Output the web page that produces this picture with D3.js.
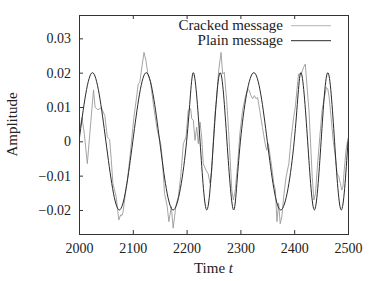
<!DOCTYPE html>
<html>
<head>
<meta charset="utf-8">
<script src="https://cdn.jsdelivr.net/npm/d3@7"></script>
<style>
body { margin: 0; background: #fff; }
text { font-family: "Liberation Serif", "DejaVu Serif", serif; fill: #222; }
</style>
</head>
<body>
<div id="chart-area"></div>
<script>
// Plain message: extremes and zero crossings
let plainTime = [2000, 2025, 2050, 2075, 2100, 2125, 2150, 2175, 2200, 2212.5, 2225, 2237.5, 2250, 2262.5, 2275, 2287.5,
	2300, 2325, 2350, 2375, 2400, 2412.5, 2425, 2437.5, 2450, 2462.5, 2475, 2487.5, 2500];
let plainAmp = [0, 0.02, 0, -0.02, 0, 0.02, 0, -0.02, 0, 0.02, 0, -0.02, 0, 0.02, 0, -0.02,
	0, 0.02, 0, -0.02, 0, 0.02, 0, -0.02, 0, 0.02, 0, -0.02, 0];

// Cracked message (noisy trace)
let crackedTime = [2000, 2001, 2005.6, 2010, 2015.5, 2020, 2027, 2030, 2035, 2041.5, 2048, 2052.6, 2057, 2060, 2063, 2066,
	2069, 2074, 2077.5, 2080, 2082, 2087, 2090, 2096, 2102, 2107, 2110, 2113, 2117.7, 2120.8, 2124.5, 2128,
	2133, 2139, 2145.5, 2152, 2155, 2159, 2164, 2167, 2171.6, 2175, 2180, 2184.6, 2189, 2194, 2199, 2203,
	2207.6, 2209.5, 2212.5, 2215.6, 2218.8, 2221.8, 2225, 2228, 2231, 2236, 2240, 2243.5, 2246.7, 2249.7, 2252.8, 2256,
	2259.6, 2264, 2267, 2270, 2274.5, 2278, 2280.7, 2284, 2287, 2290.5, 2295, 2299, 2304, 2309, 2313.5, 2316.5,
	2319.7, 2322.8, 2326, 2329, 2332, 2336, 2341, 2346, 2349, 2352, 2355.6, 2359, 2362, 2365, 2368, 2371,
	2374, 2377, 2380.5, 2385, 2390, 2394.6, 2399, 2402, 2405, 2408, 2413, 2417.6, 2420.6, 2424, 2427.5, 2430.5,
	2433.5, 2436.6, 2439.6, 2442.6, 2447.6, 2451.8, 2456, 2460, 2462.5, 2465, 2468.6, 2472.4, 2476.6, 2479.8, 2482.9, 2485.9,
	2488.5, 2490.7, 2493, 2496.3, 2500];
let crackedAmp = [0.001, 0.0032, 0.007, 0.002, -0.0065, 0.002, 0.015, 0.0099, 0.0092, 0.0098, 0.0075, 0.0013, 0.0005, -0.0054, -0.0123, -0.0142,
	-0.0161, -0.0229, -0.0214, -0.0216, -0.0205, -0.0142, -0.0113, -0.0026, 0.007, 0.0128, 0.0167, 0.0172, 0.0225, 0.0259, 0.0235, 0.0196,
	0.0172, 0.0099, 0.0032, -0.0007, -0.0055, -0.0152, -0.019, -0.0234, -0.019, -0.0253, -0.019, -0.0161, -0.0103, -0.0007, 0.0013, 0.009,
	0.0095, 0.0066, 0.0061, 0.0003, 0.0041, -0.0007, 0.0056, 0.0012, -0.0065, -0.0084, -0.0094, -0.0123, -0.0084, 0.0003, 0.008, 0.0128,
	0.0206, 0.0259, 0.0196, 0.0201, 0.0119, 0.0032, -0.0046, -0.0142, -0.0171, -0.0142, -0.0065, 0.0022, 0.009, 0.0128, 0.0153, 0.0148,
	0.0133, 0.0124, 0.0133, 0.0124, 0.0128, 0.009, 0.004, -0.0007, -0.0026, -0.0007, -0.0046, -0.0084, -0.0123, -0.0142, -0.0234, -0.018,
	-0.024, -0.022, -0.016, -0.0103, -0.0065, 0.0013, 0.007, 0.0099, 0.0148, 0.0196, 0.0196, 0.0216, 0.0225, 0.0157, 0.009, -0.0007,
	-0.0103, -0.0171, -0.0152, -0.0084, 0.0013, 0.009, 0.0128, 0.0157, 0.0153, 0.0128, 0.007, 0.0003, -0.0046, -0.0094, -0.0103, -0.0123,
	-0.0142, -0.0132, -0.0084, -0.0026, 0.001];

let xTicks = [2000, 2100, 2200, 2300, 2400, 2500];
let yTicks = [-0.02, -0.01, 0, 0.01, 0.02, 0.03];
let legendLabels = ["Cracked message", "Plain message"];

// SVG drawing area
let margin = {top: 15, right: 26, bottom: 47, left: 79};
let width = 374 - margin.left - margin.right,
		height = 281 - margin.top - margin.bottom;
let svg = d3.select("#chart-area").append("svg")
		.attr("width", width + margin.left + margin.right)
		.attr("height", height + margin.top + margin.bottom)
	.append("g")
		.attr("transform", "translate(" + margin.left + "," + margin.top + ")");

let xScale = d3.scaleLinear().domain([2000, 2500]).range([0, width]);
let yScale = d3.scaleLinear().domain([-0.027, 0.0368]).range([height, 0]);

let plain = plainTime.map((t, i) => ({t: t, v: plainAmp[i]}));
let cracked = crackedTime.map((t, i) => ({t: t, v: crackedAmp[i]}));

// lines (clipped to the plot box)
svg.append("clipPath").attr("id", "clip")
	.append("rect").attr("width", width).attr("height", height);

let crackedLine = d3.line().x(d => xScale(d.t)).y(d => yScale(d.v)).curve(d3.curveLinear);
let plainLine = d3.line().x(d => xScale(d.t)).y(d => yScale(d.v)).curve(d3.curveNatural);

svg.append("path")
	.attr("clip-path", "url(#clip)")
	.attr("d", crackedLine(cracked))
	.attr("fill", "none")
	.attr("stroke", "#9a9a9a")
	.attr("stroke-width", 0.9);

svg.append("path")
	.attr("clip-path", "url(#clip)")
	.attr("d", plainLine(plain))
	.attr("fill", "none")
	.attr("stroke", "#2a2a2a")
	.attr("stroke-width", 1);

// axes, ticks point inward
let fmtY = d => d === 0 ? "0" : d3.format(".2f")(d);
let xAxis = d3.axisBottom(xScale).tickValues(xTicks).tickFormat(d3.format("d")).tickSize(-4).tickPadding(9);
let xTop = d3.axisTop(xScale).tickValues(xTicks).tickFormat("").tickSize(-4);
let yAxis = d3.axisLeft(yScale).tickValues(yTicks).tickFormat(fmtY).tickSize(-4).tickPadding(8);

svg.append("g").attr("class", "axis x-axis")
	.attr("transform", "translate(0," + height + ")")
	.call(xAxis);
svg.append("g").attr("class", "axis").call(xTop);
svg.append("g").attr("class", "axis y-axis").call(yAxis);

svg.selectAll(".axis .domain").remove();
svg.selectAll(".axis line").attr("stroke", "#333");
svg.selectAll(".axis text").style("font-size", "14px").attr("fill", "#222");

// frame
svg.append("rect")
	.attr("x", 0.5).attr("y", 0.5)
	.attr("width", width).attr("height", height)
	.attr("fill", "none")
	.attr("stroke", "#333");

// axis titles
svg.append("text")
	.attr("x", width / 2).attr("y", 273 - margin.top)
	.attr("text-anchor", "middle")
	.style("font-size", "15px")
	.html('Time <tspan font-style="italic">t</tspan>');

svg.append("text")
	.attr("transform", "translate(" + (17 - margin.left) + "," + (height / 2) + ") rotate(-90)")
	.attr("text-anchor", "middle")
	.style("font-size", "15px")
	.text("Amplitude");

// legend
let legendColors = ["#b4b4b4", "#2a2a2a"];
let legend = svg.selectAll(".legend").data(legendLabels).enter().append("g")
	.attr("class", "legend")
	.attr("transform", (d, i) => "translate(0," + (i * 15) + ")");
legend.append("text")
	.attr("x", 283 - margin.left).attr("y", 29.5 - margin.top)
	.attr("text-anchor", "end")
	.style("font-size", "15px")
	.text(d => d);
legend.append("line")
	.attr("x1", 291 - margin.left).attr("x2", 331 - margin.left)
	.attr("y1", 25.7 - margin.top).attr("y2", 25.7 - margin.top)
	.attr("stroke", (d, i) => legendColors[i])
	.attr("stroke-width", 1);
</script>
</body>
</html>
